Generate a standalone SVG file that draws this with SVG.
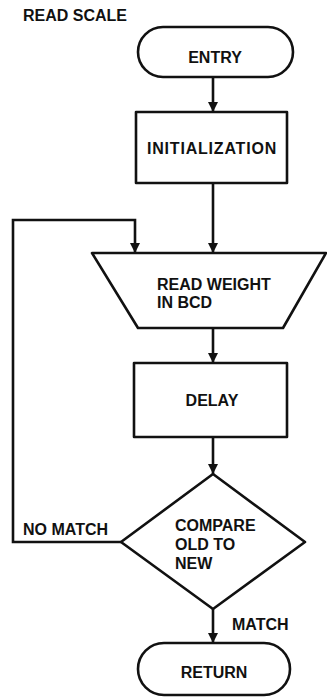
<svg xmlns="http://www.w3.org/2000/svg" width="327" height="700" viewBox="0 0 327 700">
<style>
.s{fill:#fff;stroke:#111;stroke-width:2.6;stroke-linejoin:round}
.c{fill:none;stroke:#111;stroke-width:2.6}
text{font-family:"Liberation Sans",Arial,sans-serif;font-weight:bold;font-size:16px;fill:#111}
.m{text-anchor:middle}
</style>
<defs>
<marker id="ah" viewBox="0 0 10 16" refX="10" refY="8" markerWidth="10" markerHeight="16" markerUnits="userSpaceOnUse" orient="auto">
<path d="M0,3 L10,8 L0,13 Z" fill="#111"/>
</marker>
</defs>
<rect width="327" height="700" fill="#fff"/>
<text x="23" y="21">READ SCALE</text>
<g id="connectors">
<line class="c" x1="213" y1="77" x2="213" y2="112" marker-end="url(#ah)"/>
<line class="c" x1="213" y1="183" x2="213" y2="253" marker-end="url(#ah)"/>
<line class="c" x1="213" y1="328" x2="213" y2="363" marker-end="url(#ah)"/>
<line class="c" x1="213" y1="437" x2="213" y2="474" marker-end="url(#ah)"/>
<line class="c" x1="213" y1="609" x2="213" y2="643" marker-end="url(#ah)"/>
<polyline class="c" points="121,542 13,542 13,220 135,220 135,253" marker-end="url(#ah)"/>
<text x="23" y="535">NO MATCH</text>
<text x="232" y="630">MATCH</text>
</g>
<g id="entry">
<rect class="s" x="138" y="27" width="155" height="50" rx="25"/>
<text class="m" x="215" y="63">ENTRY</text>
</g>
<g id="init">
<rect class="s" x="136" y="112" width="151" height="71"/>
<text class="m" x="212" y="154" letter-spacing="0.8">INITIALIZATION</text>
</g>
<g id="read">
<polygon class="s" points="92,253 326,253 283,328 138,328"/>
<text x="157" y="290">READ WEIGHT</text>
<text x="157" y="308">IN BCD</text>
</g>
<g id="delay">
<rect class="s" x="134" y="363" width="153" height="74"/>
<text class="m" x="212" y="406">DELAY</text>
</g>
<g id="compare">
<polygon class="s" points="213,474 305,542 213,609 121,542"/>
<text x="175" y="531">COMPARE</text>
<text x="175" y="550">OLD TO</text>
<text x="175" y="569">NEW</text>
</g>
<g id="return">
<rect class="s" x="138" y="643" width="152" height="52" rx="26"/>
<text class="m" x="214" y="678">RETURN</text>
</g>
</svg>
